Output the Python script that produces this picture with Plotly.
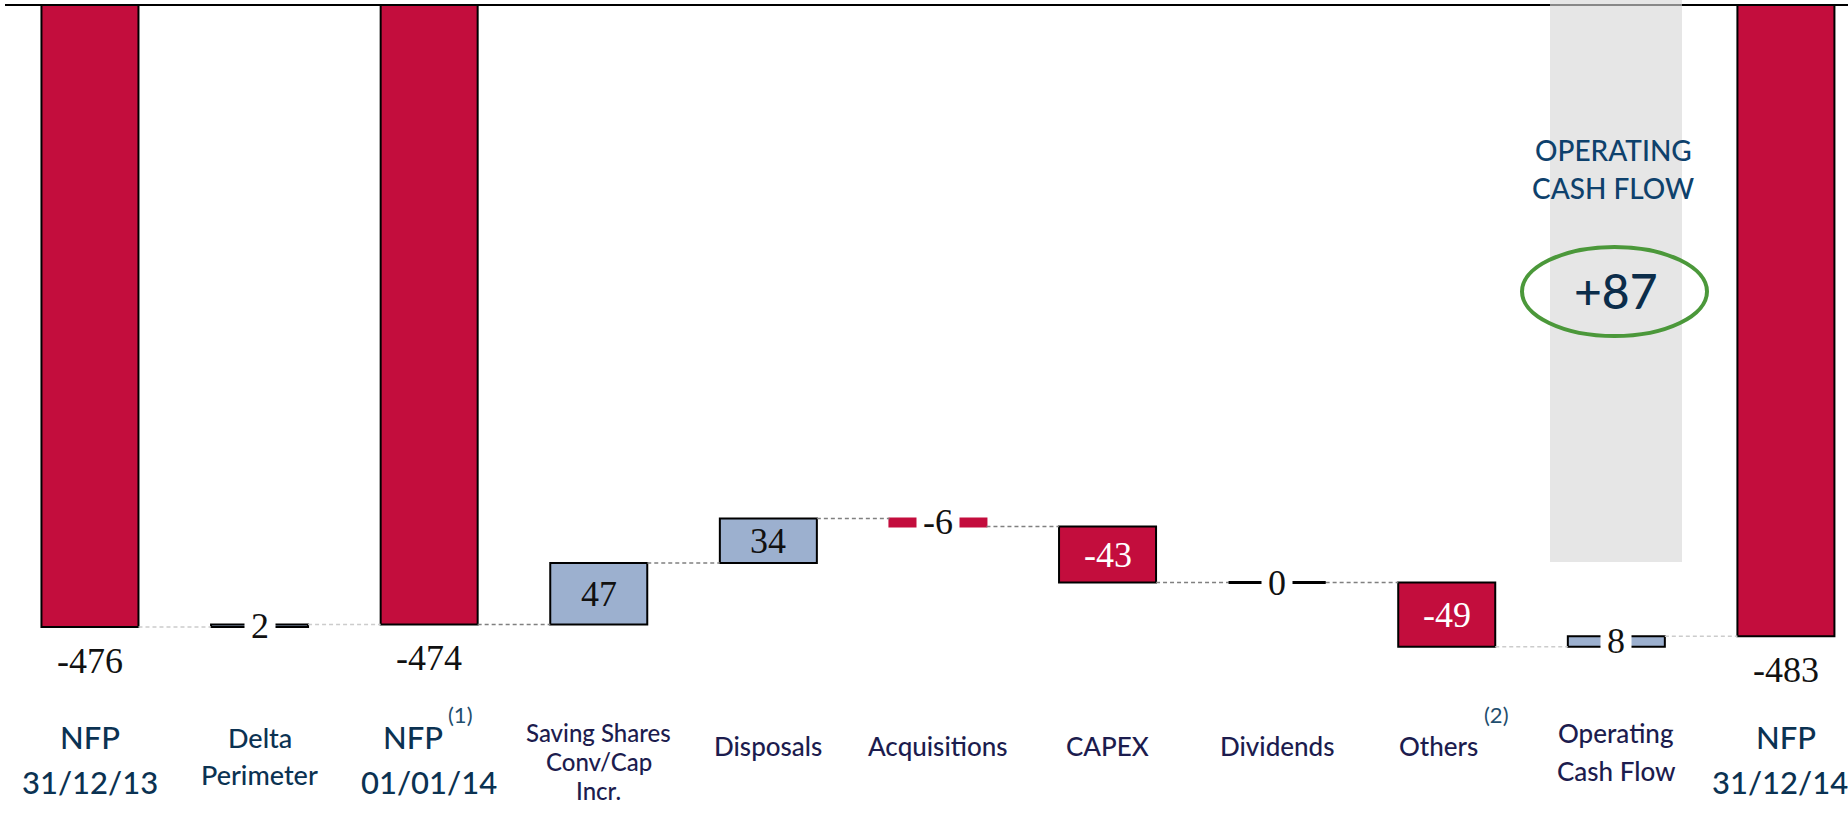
import plotly.graph_objects as go

# ---------------- data ----------------
categories = ["NFP 31/12/13", "Delta Perimeter", "NFP 01/01/14", "Saving Shares Conv/Cap Incr.",
              "Disposals", "Acquisitions", "CAPEX", "Dividends", "Others",
              "Operating Cash Flow", "NFP 31/12/14"]
values = [-476, 2, -474, 47, 34, -6, -43, 0, -49, 8, -483]
measures = ["total", "relative", "total", "relative", "relative", "relative",
            "relative", "relative", "relative", "relative", "total"]
value_labels = ["-476", "2", "-474", "47", "34", "-6", "-43", "0", "-49", "8", "-483"]
tick_labels = ["NFP<br>31/12/13", "Delta<br>Perimeter", "NFP<br>01/01/14",
               "Saving Shares<br>Conv/Cap<br>Incr.", "Disposals", "Acquisitions", "CAPEX",
               "Dividends", "Others", "Operating<br>Cash Flow", "NFP<br>31/12/14"]
footnote_marks = {2: "(1)", 8: "(2)"}
highlight_title = ["OPERATING", "CASH FLOW"]
highlight_value = "+87"

# ---------------- geometry helpers ----------------
W_FIG, H_FIG = 1848, 816
L, T = 5, 5
PW, PH = W_FIG - L, H_FIG - T
X_RANGE = [-0.501, 10.366]
Y_RANGE = [-620.6, 0]
BAR_W = 0.572


def paper_x(px):
    return (px - L) / PW


def paper_y(py):
    return 1 - (py - T) / PH


RED = "#C30D3D"
BLUE = "#9CB0CF"
DARK_CONN = "#808080"
LIGHT_CONN = "#CCCCCC"
SERIF = "Liberation Serif"
SANS = "Lato"

# ---------------- compute waterfall ----------------
bases, heights, fills, outlines, ends = [], [], [], [], []
running = 0
for v, m in zip(values, measures):
    if m == "total":
        bases.append(0)
        heights.append(v)
        running = v
        fills.append(RED)
    else:
        bases.append(running)
        heights.append(v)
        running += v
        fills.append(BLUE if v >= 0 else RED)
    ends.append(running)
    outlines.append("black")
for i, v in enumerate(values):
    if measures[i] == "relative" and v < 0 and abs(v) < 20:
        outlines[i] = fills[i]

xs = list(range(len(values)))

fig = go.Figure()

# connectors
light_pairs = {0, 1, 8, 9}
cx = {"light": [], "dark": []}
cy = {"light": [], "dark": []}
for i in range(len(values) - 1):
    key = "light" if i in light_pairs else "dark"
    cx[key] += [i + BAR_W / 2, i + 1 - BAR_W / 2, None]
    cy[key] += [ends[i], ends[i], None]
for key, col in (("light", LIGHT_CONN), ("dark", DARK_CONN)):
    fig.add_trace(go.Scatter(x=cx[key], y=cy[key], mode="lines",
                             line=dict(color=col, width=1.5, dash="4px,3px"),
                             hoverinfo="skip", showlegend=False))

# bars
fig.add_trace(go.Bar(x=xs, y=heights, base=bases, width=BAR_W,
                     marker=dict(color=fills, line=dict(color=outlines, width=2)),
                     hoverinfo="skip", showlegend=False))

# zero-height bars drawn as a line
for i, v in enumerate(values):
    if v == 0 and measures[i] == "relative":
        fig.add_trace(go.Scatter(x=[i - BAR_W / 2, i + BAR_W / 2], y=[bases[i], bases[i]],
                                 mode="lines", line=dict(color="black", width=3),
                                 hoverinfo="skip", showlegend=False))

annotations = []
# value labels
for i, (v, m, lab) in enumerate(zip(values, measures, value_labels)):
    if m == "total":
        annotations.append(dict(x=i, y=v, xref="x", yref="y", text=lab, showarrow=False,
                                yshift=-34, font=dict(family=SERIF, size=36, color="#111111")))
    elif abs(v) >= 20:
        annotations.append(dict(x=i, y=bases[i] + v / 2, xref="x", yref="y", text=lab,
                                showarrow=False,
                                font=dict(family=SERIF, size=36,
                                          color="white" if v < 0 else "#111111")))
    else:
        annotations.append(dict(x=i, y=bases[i] + v / 2, xref="x", yref="y", text=lab,
                                showarrow=False, bgcolor="white", borderpad=6,
                                font=dict(family=SERIF, size=36, color="#111111")))

# category labels (line by line)
NFP_COL = "#0B3252"
CAT_COL = "#1C1C4E"
SUP_COL = "#1F4E6E"
last = len(tick_labels) - 1
for i, txt in enumerate(tick_labels):
    lines = txt.split("<br>")
    if txt.startswith("NFP"):
        size, col, centers = 31, NFP_COL, [737, 782]
    elif i == 1:
        size, col, centers = 27, NFP_COL, [737, 774]
    elif len(lines) == 3:
        size, col, centers = 24, CAT_COL, [732, 761, 790]
    elif len(lines) == 2:
        size, col, centers = 26, CAT_COL, [733, 771]
    else:
        size, col, centers = 26, CAT_COL, [746]
    for k, (line, cpy) in enumerate(zip(lines, centers)):
        ann = dict(x=i, y=paper_y(cpy), xref="x", yref="paper", text=line,
                   showarrow=False, yanchor="middle",
                   font=dict(family=SANS, size=size, color=col, weight=500))
        if i in footnote_marks and k == 0:
            ann.update(xanchor="right", xshift=16 if i == 2 else 33)
        if i == last and k == 1:
            ann.update(xshift=-6)
        annotations.append(ann)
    if i in footnote_marks:
        annotations.append(dict(x=i, y=paper_y(714), xref="x", yref="paper",
                                text=footnote_marks[i], showarrow=False,
                                xanchor="left", yanchor="middle",
                                xshift=17 if i == 2 else 35,
                                font=dict(family=SANS, size=22, color=SUP_COL)))

# highlight texts
hl_x = paper_x(1613)
for line, cpy in zip(highlight_title, [150, 188]):
    annotations.append(dict(x=hl_x, y=paper_y(cpy), xref="paper", yref="paper", text=line,
                            showarrow=False, xanchor="center", yanchor="middle",
                            font=dict(family=SANS, size=28, color="#0E416C", weight=500)))
annotations.append(dict(x=paper_x(1616), y=paper_y(291), xref="paper", yref="paper",
                        text=highlight_value, showarrow=False, xanchor="center",
                        yanchor="middle",
                        font=dict(family=SANS, size=48, color="#0C2D4A", weight=500)))

shapes = [
    dict(type="line", xref="paper", yref="paper", x0=0, x1=1, y0=1, y1=1,
         line=dict(color="black", width=2), layer="above"),
    dict(type="rect", xref="paper", yref="paper", x0=paper_x(1550), x1=paper_x(1682),
         y0=paper_y(562), y1=paper_y(0), fillcolor="rgba(216,216,216,0.63)",
         line=dict(width=0), layer="above"),
    dict(type="circle", xref="paper", yref="paper", x0=paper_x(1522), x1=paper_x(1707),
         y0=paper_y(336), y1=paper_y(247), line=dict(color="#4B983A", width=4),
         fillcolor="rgba(0,0,0,0)", layer="above"),
]

fig.update_layout(
    width=W_FIG, height=H_FIG,
    margin=dict(l=L, r=0, t=T, b=0, pad=0),
    paper_bgcolor="white", plot_bgcolor="white",
    xaxis=dict(range=X_RANGE, visible=False, fixedrange=True),
    yaxis=dict(range=Y_RANGE, visible=False, fixedrange=True),
    barmode="overlay",
    annotations=annotations,
    shapes=shapes,
    showlegend=False,
)

fig.write_html("out.html")
